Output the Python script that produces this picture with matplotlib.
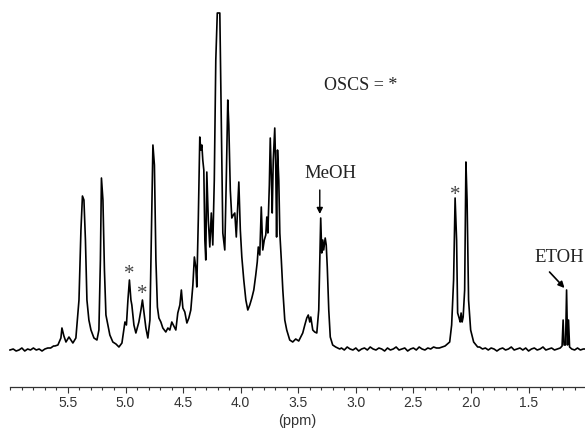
import matplotlib
matplotlib.use("Agg")
import matplotlib.pyplot as plt
from matplotlib.ticker import MultipleLocator, FixedLocator

# Traced spectrum pieces (chemical shift in ppm, intensity in arbitrary units)
base1_ppm = [6.003, 5.975, 5.950, 5.925, 5.900, 5.875, 5.850, 5.825, 5.800,
             5.775, 5.750, 5.725, 5.700, 5.675, 5.650, 5.625]
base1_int = [0, 1, -1, 0, 2, -1, 1, 0, 2, 0, 1, -1, 1, 2, 2, 4]

sugar_ppm = [5.613, 5.587, 5.561, 5.552, 5.535, 5.517, 5.491, 5.474, 5.457, 5.431,
             5.404, 5.387, 5.374, 5.361, 5.348, 5.335, 5.318, 5.300, 5.274, 5.248,
             5.231, 5.218, 5.209, 5.196, 5.183, 5.170, 5.153, 5.136, 5.110, 5.083,
             5.057, 5.031, 5.005, 4.992, 4.979, 4.966, 4.953, 4.945, 4.927, 4.910,
             4.884, 4.866, 4.853, 4.840, 4.823, 4.806, 4.788, 4.775, 4.762, 4.749,
             4.736, 4.723, 4.710, 4.693, 4.676, 4.650, 4.632, 4.615, 4.598, 4.580,
             4.563, 4.546, 4.528, 4.515, 4.502, 4.485, 4.467, 4.450, 4.433, 4.415,
             4.402, 4.389, 4.381, 4.368, 4.355, 4.346, 4.337, 4.329, 4.320, 4.311,
             4.303, 4.294, 4.281, 4.268, 4.255, 4.242, 4.229, 4.216, 4.203, 4.181,
             4.168, 4.155, 4.138, 4.125, 4.112, 4.103, 4.090, 4.077, 4.064, 4.051,
             4.038, 4.025, 4.016, 4.003, 3.990, 3.973, 3.955, 3.938, 3.921, 3.903,
             3.886, 3.869, 3.856, 3.847, 3.834, 3.821, 3.808, 3.795, 3.782, 3.773,
             3.764, 3.751, 3.743, 3.734, 3.726, 3.717, 3.704, 3.695, 3.688, 3.680,
             3.669, 3.660, 3.647, 3.634, 3.617, 3.600, 3.574, 3.548, 3.522, 3.496,
             3.478, 3.461, 3.443, 3.426, 3.413, 3.400, 3.391, 3.374, 3.357, 3.339,
             3.322, 3.313, 3.305, 3.296, 3.287, 3.279, 3.266, 3.257, 3.248, 3.235,
             3.222, 3.201, 3.175, 3.140]
sugar_int = [4, 5, 12, 22, 14, 8, 13, 10, 7, 12,
             50, 120, 154, 150, 110, 50, 30, 20, 12, 10,
             20, 90, 172, 150, 80, 35, 25, 15, 8, 6,
             3, 7, 28, 25, 50, 70, 50, 45, 25, 17,
             28, 40, 50, 38, 22, 12, 30, 120, 205, 185,
             90, 43, 32, 28, 22, 18, 22, 20, 28, 24,
             20, 37, 45, 60, 42, 38, 27, 32, 40, 65,
             93, 82, 63, 130, 213, 200, 205, 190, 180, 110,
             90, 178, 130, 103, 137, 105, 170, 290, 337, 337,
             230, 117, 100, 170, 250, 225, 160, 132, 135, 137,
             113, 145, 168, 120, 93, 70, 50, 40, 45, 52,
             60, 75, 88, 103, 95, 143, 100, 110, 115, 133,
             117, 165, 212, 175, 137, 190, 222, 180, 113, 200,
             170, 117, 90, 60, 30, 20, 10, 8, 11, 9,
             13, 17, 25, 32, 35, 28, 33, 20, 18, 17,
             40, 90, 132, 97, 110, 100, 112, 105, 83, 40,
             13, 5, 3, 1]

base2_ppm = [3.125, 3.100, 3.075, 3.050, 3.025, 3.000, 2.975, 2.950, 2.925, 2.900,
             2.875, 2.850, 2.825, 2.800, 2.775, 2.750, 2.725, 2.700, 2.675, 2.650,
             2.625, 2.600, 2.575, 2.550, 2.525, 2.500, 2.475, 2.450, 2.425, 2.400,
             2.375, 2.350, 2.325, 2.300, 2.275, 2.250, 2.225]
base2_int = [2, 0, 3, 1, 0, 2, -1, 1, 2, 0,
             3, 1, 0, 2, 1, -1, 2, 0, 1, 3,
             0, 1, 2, -1, 1, 2, 0, 3, 1, 0,
             2, 1, 3, 2, 2, 3, 4]

acetyl_ppm = [2.185, 2.168, 2.151, 2.138, 2.125, 2.116, 2.103, 2.094, 2.086, 2.077,
              2.068, 2.055, 2.044, 2.034, 2.021, 2.003, 1.977, 1.942]
acetyl_int = [8, 25, 70, 152, 110, 37, 32, 28, 37, 28,
              33, 60, 188, 150, 50, 20, 8, 3]

base3_ppm = [1.925, 1.900, 1.875, 1.850, 1.825, 1.800, 1.775, 1.750, 1.725, 1.700,
             1.675, 1.650, 1.625, 1.600, 1.575, 1.550, 1.525, 1.500, 1.475, 1.450,
             1.425, 1.400, 1.375, 1.350, 1.325, 1.300, 1.275, 1.250, 1.225]
base3_int = [3, 1, 2, 0, 2, 1, -1, 1, 2, 0,
             1, 3, 0, 1, 2, 0, 2, -1, 1, 2,
             0, 1, 3, 0, 1, 2, 0, 1, 2]

etoh_ppm = [1.209, 1.200, 1.192, 1.179, 1.170, 1.161, 1.153, 1.144,
            1.125, 1.100, 1.075, 1.050, 1.025, 1.010]
etoh_int = [4, 30, 5, 5, 60, 5, 30, 3,
            1, 0, 2, 0, 1, 1]

major_ticks = [5.5, 5.0, 4.5, 4.0, 3.5, 3.0, 2.5, 2.0, 1.5]
tick_labels = ["5.5", "5.0", "4.5", "4.0", "3.5", "3.0", "2.5", "2.0", "1.5"]
star_positions = [4.971, 4.858, 2.133]
star_heights = [71, 51, 150]

ppm = base1_ppm + sugar_ppm + base2_ppm + acetyl_ppm + base3_ppm + etoh_ppm
intensity = base1_int + sugar_int + base2_int + acetyl_int + base3_int + etoh_int

fig = plt.figure(figsize=(5.85, 4.34), dpi=100)
ax = fig.add_axes([10 / 585, 47 / 434, 575 / 585, 387 / 434])
ax.plot(ppm, intensity, color="black", lw=1.2, clip_on=False)
ax.set_xlim(6.003, 1.01)
ax.set_ylim(-37, 350)

for s in ["top", "right", "left"]:
    ax.spines[s].set_visible(False)
ax.spines["bottom"].set_color("#333333")
ax.spines["bottom"].set_linewidth(0.9)
ax.set_yticks([])
ax.xaxis.set_major_locator(FixedLocator(major_ticks))
ax.set_xticklabels(tick_labels, fontfamily="Liberation Sans", fontsize=10, color="#333333")
ax.xaxis.set_minor_locator(MultipleLocator(0.1))
ax.tick_params(axis="x", which="major", direction="out", length=4.5, width=0.8,
               color="#333333", pad=2)
ax.tick_params(axis="x", which="minor", direction="out", length=2.5, width=0.8,
               color="#333333")
ax.set_xlabel("(ppm)", fontfamily="Liberation Sans", fontsize=10.5, color="#333333",
              labelpad=3)

serif = "Liberation Serif"
ax.text(2.958, 265, "OSCS = *", fontfamily=serif, fontsize=13, ha="center",
        va="center", color="#222222")
ax.text(3.218, 177, "MeOH", fontfamily=serif, fontsize=13.5, ha="center",
        va="center", color="#222222")
ax.annotate("", xy=(3.313, 136), xytext=(3.313, 160),
            arrowprops=dict(arrowstyle="-|>", color="black", lw=1.0,
                            mutation_scale=9, shrinkA=0, shrinkB=0))
ax.text(1.231, 92, "ETOH", fontfamily=serif, fontsize=13.5, ha="center",
        va="center", color="#222222", clip_on=False)
ax.annotate("", xy=(1.188, 62), xytext=(1.318, 78),
            arrowprops=dict(arrowstyle="-|>", color="black", lw=1.2,
                            mutation_scale=9, shrinkA=0, shrinkB=0))
for xp, yp in zip(star_positions, star_heights):
    ax.text(xp, yp, "*", fontfamily=serif, fontsize=15, ha="center",
            va="baseline", color="#444444")

fig.savefig("out.png", dpi=100)
